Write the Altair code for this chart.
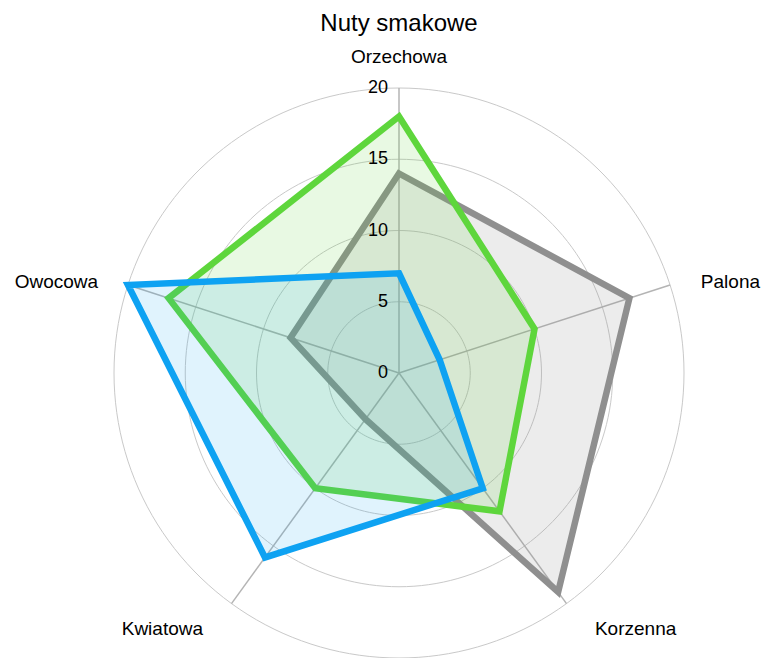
import altair as alt
import pandas as pd

# ---- data ----
categories = ["Orzechowa", "Palona", "Korzenna", "Kwiatowa", "Owocowa"]
gray_values = [14, 17, 19, 4, 8]
green_values = [18, 10, 12, 10, 17]
blue_values = [7, 3, 10, 16, 20]
ticks = [0, 5, 10, 15, 20]

series = [
    ("Seria 1", gray_values, "#8f8f8f", 0.17),
    ("Seria 2", green_values, "#5ed63c", 0.14),
    ("Seria 3", blue_values, "#0ea2f2", 0.13),
]

rows = []
for name, vals, _, _ in series:
    for i, (c, v) in enumerate(zip(categories, vals)):
        rows.append({"series": name, "cat": c, "idx": i, "value": v})
df = pd.DataFrame(rows)
cat_df = pd.DataFrame({"cat": categories, "idx": list(range(len(categories)))})
tick_df = pd.DataFrame({"tick": ticks})
ring_df = pd.DataFrame({"r": ticks[1:]})

RMAX = 20
LABEL_R = 22.2
FONT = "Liberation Sans"

xs = alt.Scale(domain=[-RMAX, RMAX], nice=False, zero=False)
ys = alt.Scale(domain=[-RMAX, RMAX], nice=False, zero=False)


def X(f):
    return alt.X(f, type="quantitative", scale=xs, axis=None)


def Y(f):
    return alt.Y(f, type="quantitative", scale=ys, axis=None)


# grid circles
rings = (
    alt.Chart(ring_df)
    .transform_calculate(deg="sequence(0, 361, 2)")
    .transform_flatten(["deg"])
    .transform_calculate(
        px="datum.r * sin(datum.deg * PI / 180)",
        py="datum.r * cos(datum.deg * PI / 180)",
    )
    .mark_line(stroke="#c9c9c9", strokeWidth=1)
    .encode(x=X("px"), y=Y("py"), detail="r:N", order="deg:Q")
)

# spokes
spokes = (
    alt.Chart(cat_df)
    .transform_calculate(
        ang="datum.idx * 2 * PI / 5",
        x0="0",
        y0="0",
    )
    .transform_calculate(
        x1=f"{RMAX} * sin(datum.ang)",
        y1=f"{RMAX} * cos(datum.ang)",
    )
    .mark_rule(stroke="#b4b4b4", strokeWidth=1.5)
    .encode(x=X("x0"), y=Y("y0"), x2="x1:Q", y2="y1:Q")
)

# polygons
polys = []
for name, _, col, op in series:
    polys.append(
        alt.Chart(df)
        .transform_filter(alt.datum.series == name)
        .transform_calculate(ang="datum.idx * 2 * PI / 5")
        .transform_calculate(
            px="datum.value * sin(datum.ang)",
            py="datum.value * cos(datum.ang)",
        )
        .mark_line(
            interpolate="linear-closed",
            stroke=col,
            strokeWidth=6.5,
            strokeJoin="miter",
            fill=col,
            fillOpacity=op,
        )
        .encode(x=X("px"), y=Y("py"), order="idx:Q")
    )

# radial tick labels
tick_labels = (
    alt.Chart(tick_df)
    .transform_calculate(x0="0")
    .mark_text(align="right", baseline="middle", dx=-11, fontSize=18, font=FONT, color="#000")
    .encode(x=X("x0"), y=Y("tick"), text="tick:Q")
)


def cat_label(names, align, dx=0, dy=0):
    return (
        alt.Chart(cat_df)
        .transform_filter(alt.FieldOneOfPredicate(field="cat", oneOf=names))
        .transform_calculate(ang="datum.idx * 2 * PI / 5")
        .transform_calculate(
            lx=f"{LABEL_R} * sin(datum.ang)",
            ly=f"{LABEL_R} * cos(datum.ang)",
        )
        .mark_text(align=align, baseline="middle", dx=dx, dy=dy, fontSize=19, font=FONT, color="#000")
        .encode(x=X("lx"), y=Y("ly"), text="cat:N")
    )


labels = [
    cat_label(["Orzechowa"], "center"),
    cat_label(["Palona"], "left", dx=1, dy=7),
    cat_label(["Owocowa"], "right", dx=0, dy=7),
    cat_label(["Korzenna"], "left", dx=10),
    cat_label(["Kwiatowa"], "right", dx=-10),
]

chart = (
    alt.layer(rings, spokes, *polys, tick_labels, *labels)
    .properties(
        width=570,
        height=570,
        title=alt.TitleParams(
            "Nuty smakowe", fontSize=24, font=FONT, fontWeight="normal", color="#000", offset=12
        ),
        autosize=alt.AutoSizeParams(type="none"),
        padding={"left": 106, "top": 80, "right": 82, "bottom": 0},
    )
    .configure_view(stroke=None)
)

chart.save("out.html", embed_options={"renderer": "svg", "actions": False})
